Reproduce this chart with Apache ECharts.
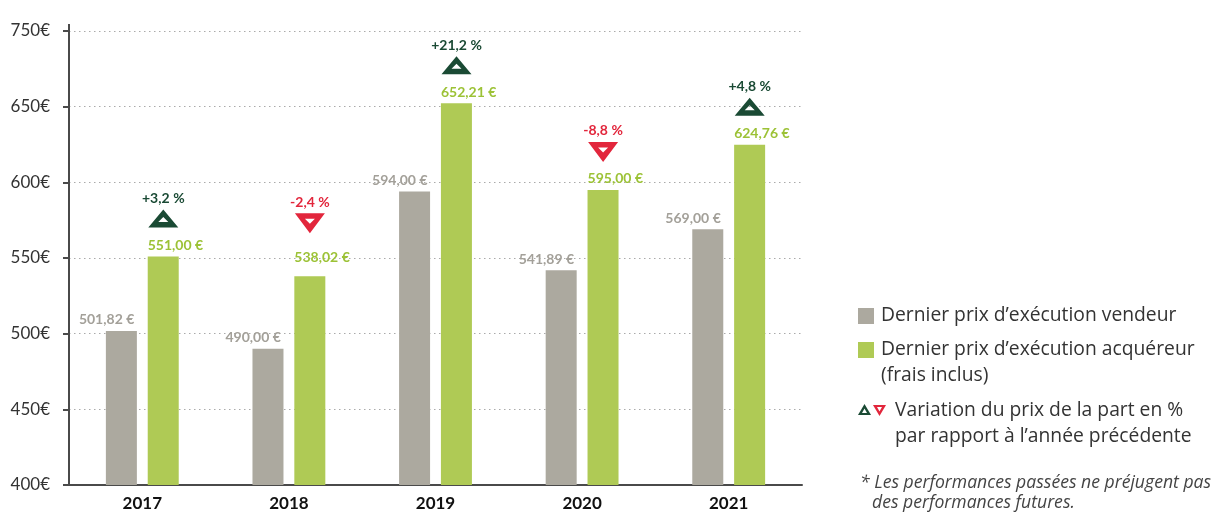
<!DOCTYPE html>
<html>
<head>
<meta charset="utf-8">
<script src="https://cdn.jsdelivr.net/npm/echarts@6/dist/echarts.min.js"></script>
<style>
html, body { margin: 0; background: #fff; }
#chart { width: 1227px; height: 513px; }
</style>
</head>
<body>
<div id="chart"></div>
<script>
// données
var years = ['2017', '2018', '2019', '2020', '2021'];
var vendeur = [501.82, 490.00, 594.00, 541.89, 569.00];
var acquereur = [551.00, 538.02, 652.21, 595.00, 624.76];
var variation = [3.2, -2.4, 21.2, -8.8, 4.8];
// graduations telles qu'imprimées (le haut de l'axe est noté 750€ dans l'original)
var yTickLabels = ['400€', '450€', '500€', '550€', '600€', '650€', '750€'];

// couleurs
var gray_color = '#aca99f';
var green_color = '#afca55';
var green_text = '#9cc236';
var up_color = '#1a4a34';
var down_color = '#e2263c';
var font = '"Open Sans", Lato, sans-serif';
var font2 = 'Lato, "Open Sans", sans-serif';

// triangles creux (le trou vient du sens inverse du tracé)
var upPath = 'path://M15,0 L30,18 L0,18 Z M15,7.5 L10,12.5 L20,12.5 Z';
var downPath = 'path://M0,0 L30,0 L15,20 Z M10,5.5 L15,10.5 L20,5.5 Z';

function euro(v) {
    return v.toFixed(2).replace('.', ',') + '\u202F€';
}
function pct(v) {
    return (v > 0 ? '+' : '') + v.toFixed(1).replace('.', ',') + '\u202F%';
}

var triData = [];
for (let i = 0; i < years.length; i++) {
    let up = variation[i] >= 0;
    // 2018 : triangle un peu plus haut dans l'original
    let lift = i === 1 ? -53 : -38;
    triData.push({
        value: acquereur[i],
        symbol: up ? upPath : downPath,
        symbolSize: up ? [30, 18] : [30, 20],
        symbolOffset: [21, lift],
        itemStyle: { color: up ? up_color : down_color, opacity: 1 },
        label: { color: up ? up_color : down_color },
        pct: variation[i]
    });
}

var greenData = acquereur.map(function (v, i) {
    return i === 1 ? { value: v, label: { distance: 12 } } : v;
});

var myChart = echarts.init(document.getElementById('chart'));

var option = {
    animation: false,
    backgroundColor: '#fff',
    grid: { left: 69, right: 425, top: 31, bottom: 28, outerBoundsMode: 'none' },
    xAxis: {
        type: 'category',
        data: years,
        axisLine: { lineStyle: { color: '#4a4a4a', width: 2 } },
        axisTick: { length: 8, lineStyle: { color: '#4a4a4a', width: 2 } },
        axisLabel: { color: '#111', fontFamily: font2, fontSize: 17, fontWeight: 'bold', margin: 10 }
    },
    yAxis: {
        type: 'value',
        min: 400,
        max: 700,
        interval: 50,
        axisLine: { show: true, lineStyle: { color: '#4a4a4a', width: 2 } },
        axisTick: { show: true, length: 6, lineStyle: { color: '#4a4a4a', width: 2 } },
        axisLabel: {
            color: '#333', fontFamily: font2, fontSize: 17, margin: 19,
            formatter: function (v) { return yTickLabels[Math.round((v - 400) / 50)]; }
        },
        splitLine: { lineStyle: { color: '#aaa', type: [1.5, 3.5], width: 1 } }
    },
    series: [
        {
            name: 'Dernier prix d’exécution vendeur',
            type: 'bar',
            data: vendeur,
            barWidth: 31,
            barGap: '35%',
            itemStyle: { color: gray_color },
            label: {
                show: true, position: 'top', align: 'right', offset: [13, 0], distance: 4,
                color: '#a3a099', fontFamily: font2, fontSize: 14, fontWeight: 'bold',
                formatter: function (p) { return euro(p.value); }
            }
        },
        {
            name: 'Dernier prix d’exécution acquéreur',
            type: 'bar',
            data: greenData,
            barWidth: 31,
            itemStyle: { color: green_color },
            label: {
                show: true, position: 'top', align: 'left', offset: [-15.5, 0], distance: 4,
                color: green_text, fontFamily: font2, fontSize: 14, fontWeight: 'bold',
                formatter: function (p) { return euro(p.value); }
            }
        },
        {
            name: 'variation',
            type: 'scatter',
            data: triData,
            z: 5,
            label: {
                show: true, position: 'top', distance: 4,
                fontFamily: font2, fontSize: 14, fontWeight: 'bold',
                formatter: function (p) { return pct(p.data.pct); }
            }
        }
    ],
    graphic: [
        // prolongement de l'axe vertical
        { type: 'line', shape: { x1: 69, y1: 24, x2: 69, y2: 32 }, style: { stroke: '#4a4a4a', lineWidth: 2 } },
        // légende
        { type: 'rect', shape: { x: 858, y: 308, width: 16, height: 16 }, style: { fill: gray_color } },
        { type: 'text', x: 881, y: 316, style: { text: 'Dernier prix d’exécution vendeur', fill: '#333', font: '19.3px ' + font, verticalAlign: 'middle' } },
        { type: 'rect', shape: { x: 858, y: 342, width: 16, height: 16 }, style: { fill: green_color } },
        { type: 'text', x: 881, y: 350, style: { text: 'Dernier prix d’exécution acquéreur', fill: '#333', font: '19.3px ' + font, verticalAlign: 'middle' } },
        { type: 'text', x: 881, y: 376, style: { text: '(frais inclus)', fill: '#333', font: '19.3px ' + font, verticalAlign: 'middle' } },
        { type: 'polygon', shape: { points: [[864.5, 404], [871, 415], [858, 415]] }, style: { fill: up_color } },
        { type: 'polygon', shape: { points: [[864.5, 408.5], [867, 413], [862, 413]] }, style: { fill: '#fff' } },
        { type: 'polygon', shape: { points: [[873, 405], [886, 405], [879.5, 416]] }, style: { fill: down_color } },
        { type: 'polygon', shape: { points: [[877, 407], [882, 407], [879.5, 411.5]] }, style: { fill: '#fff' } },
        { type: 'text', x: 895, y: 411, style: { text: 'Variation du prix de la part en %', fill: '#333', font: '19.3px ' + font, verticalAlign: 'middle' } },
        { type: 'text', x: 895, y: 437, style: { text: 'par rapport à l’année précédente', fill: '#333', font: '19.3px ' + font, verticalAlign: 'middle' } },
        // note
        { type: 'text', x: 860, y: 483, style: { text: '* Les performances passées ne préjugent pas', fill: '#444', font: 'italic 17.6px ' + font, verticalAlign: 'middle' } },
        { type: 'text', x: 872, y: 503, style: { text: 'des performances futures.', fill: '#444', font: 'italic 17.6px ' + font, verticalAlign: 'middle' } }
    ]
};

myChart.setOption(option);
</script>
</body>
</html>
